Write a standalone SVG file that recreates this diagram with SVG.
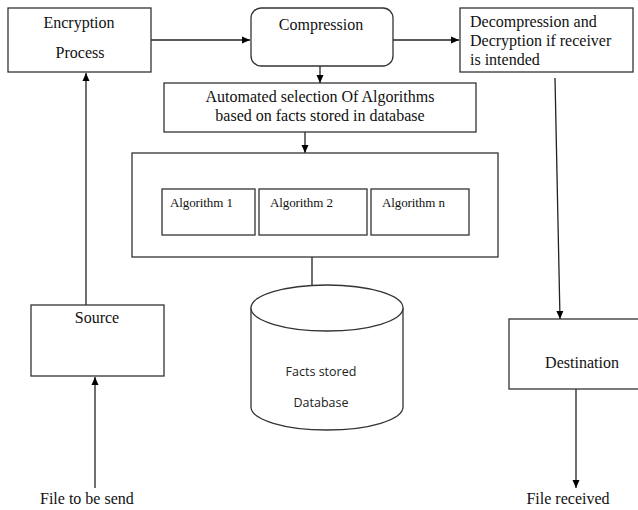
<svg xmlns="http://www.w3.org/2000/svg" width="638" height="510" viewBox="0 0 638 510">
<defs>
<marker id="ah" markerWidth="10" markerHeight="10" refX="9" refY="5" orient="auto" markerUnits="userSpaceOnUse">
<path d="M1,1.5 L9,5 L1,8.5 Z" fill="#000"/>
</marker>
<style>
.box{fill:#fff;stroke:#333;stroke-width:1.3}
.t{font-family:"Liberation Serif",serif;font-size:16px;fill:#111}
.s{font-family:"Liberation Serif",serif;font-size:13px;fill:#111;letter-spacing:-0.1px}
.c{font-family:"Open Sans","Liberation Sans",sans-serif;font-size:12.5px;fill:#222}
.ln{fill:none;stroke:#222;stroke-width:1.3}
</style>
</defs>
<rect width="638" height="510" fill="#fff"/>
<g id="connectors">
<line class="ln" x1="151" y1="40" x2="250" y2="40" marker-end="url(#ah)"/>
<line class="ln" x1="393" y1="40" x2="459" y2="40" marker-end="url(#ah)"/>
<line class="ln" x1="320" y1="66" x2="320" y2="83" marker-end="url(#ah)"/>
<line class="ln" x1="305" y1="132" x2="305" y2="153" marker-end="url(#ah)"/>
<line class="ln" x1="312" y1="257" x2="312" y2="285"/>
<line class="ln" x1="86" y1="305" x2="86" y2="73" marker-end="url(#ah)"/>
<line class="ln" x1="95" y1="488" x2="95" y2="377" marker-end="url(#ah)"/>
<line class="ln" x1="555" y1="78" x2="560" y2="319" marker-end="url(#ah)"/>
<line class="ln" x1="576" y1="389" x2="576" y2="488" marker-end="url(#ah)"/>
</g>
<g id="encryption">
<rect class="box" x="8" y="8" width="143" height="64"/>
<text class="t" x="79" y="28" text-anchor="middle">Encryption</text>
<text class="t" x="80" y="58" text-anchor="middle">Process</text>
</g>
<g id="compression">
<rect class="box" x="251" y="8" width="142" height="58" rx="10"/>
<text class="t" x="321" y="30" text-anchor="middle">Compression</text>
</g>
<g id="decompression">
<rect class="box" x="460" y="8" width="173" height="64"/>
<text class="t" x="470" y="27">Decompression and</text>
<text class="t" x="470" y="46">Decryption if receiver</text>
<text class="t" x="470" y="65">is intended</text>
</g>
<g id="selection">
<rect class="box" x="164" y="83" width="312" height="49"/>
<text class="t" x="320" y="102" text-anchor="middle">Automated selection Of Algorithms</text>
<text class="t" x="320" y="121" text-anchor="middle">based on facts stored in database</text>
</g>
<g id="algorithms">
<rect class="box" x="132" y="153" width="366" height="104"/>
<rect class="box" x="162" y="189" width="93" height="46"/>
<text class="s" x="170" y="207">Algorithm 1</text>
<rect class="box" x="259" y="189" width="108" height="46"/>
<text class="s" x="270" y="207">Algorithm 2</text>
<rect class="box" x="371" y="189" width="98" height="46"/>
<text class="s" x="382" y="207">Algorithm n</text>
</g>
<g id="database">
<path class="box" d="M251,308 L251,407 A76,23 0 0 0 403,407 L403,308"/>
<ellipse class="box" cx="327" cy="308" rx="76" ry="23"/>
<text class="c" x="321" y="376" text-anchor="middle">Facts stored</text>
<text class="c" x="321" y="407" text-anchor="middle">Database</text>
</g>
<g id="source">
<rect class="box" x="31" y="305" width="133" height="71"/>
<text class="t" x="97" y="323" text-anchor="middle">Source</text>
</g>
<g id="destination">
<rect class="box" x="509" y="319" width="135" height="70"/>
<text class="t" x="582" y="368" text-anchor="middle">Destination</text>
</g>
<g id="labels">
<text class="t" x="40" y="504">File to be send</text>
<text class="t" x="568" y="504" text-anchor="middle">File received</text>
</g>
</svg>
